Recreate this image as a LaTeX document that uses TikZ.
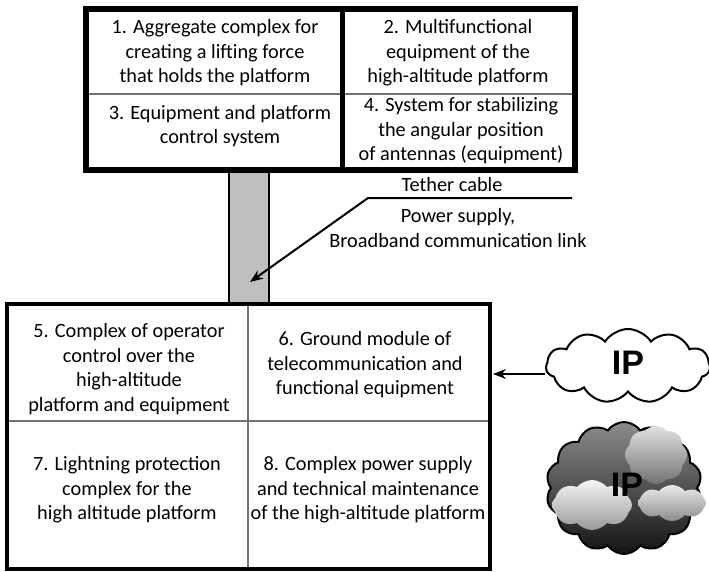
\documentclass[tikz,border=0pt]{standalone}
\usepackage{fontspec}
\setmainfont{Carlito}
\newfontfamily\ipfont{Liberation Sans}
\usetikzlibrary{arrows.meta,shapes.symbols}

\begin{document}
\begin{tikzpicture}[x=1pt,y=-1pt,
  lbl/.style={align=center,font=\fontsize{20.3}{24.5}\selectfont,inner sep=0pt},
  frame/.style={draw=black,line width=#1},
  thin/.style={draw=black!55,line width=1.5pt},
  ptr/.style={draw=black,line width=2pt,-{Stealth[length=13pt,width=10pt]}},
  iptext/.style={font=\ipfont\bfseries\fontsize{34}{34}\selectfont,inner sep=0pt},
  puff/.style={cloud,draw=none,inner sep=0pt,cloud puffs=8,cloud puff arc=100}
]
\useasboundingbox (0,0) rectangle (709,571);
\fill[white] (0,0) rectangle (709,571);

% tether cable between the platform and the ground module
\filldraw[fill=black!25,draw=black,line width=2pt] (228.5,170) rectangle (269,304);

% platform block
\draw[thin] (86,94) -- (342,94);
\draw[thin] (342,94) -- (575,94);
\draw[frame=5pt] (342,9) -- (342,170);
\draw[frame=6pt] (86,9) rectangle (575,170);

\node[lbl] (t1) at (215,53) {1. Aggregate complex for\\creating a lifting force\\that holds the platform};
\node[lbl] (t2) at (458,53) {2. Multifunctional\\equipment of the\\high-altitude platform};
\node[lbl] (t3) at (220,126) {3. Equipment and platform\\control system};
\node[lbl] (t4) at (461,131) {4. System for stabilizing\\the angular position\\of antennas (equipment)};

% ground block
\draw[thin] (248,304) -- (248,569);
\draw[thin] (7,421) -- (490,421);
\draw[frame=4.5pt] (7,304) rectangle (490,569);

\node[lbl] (t5) at (129,369) {5. Complex of operator\\control over the\\high-altitude\\platform and equipment};
\node[lbl] (t6) at (365,365) {6. Ground module of\\telecommunication and\\functional equipment};
\node[lbl] (t7) at (127,490) {7. Lightning protection\\complex for the\\high altitude platform};
\node[lbl] (t8) at (368,490) {8. Complex power supply\\and technical maintenance\\of the high-altitude platform};

% cable labels and leader
\node[lbl] (cab) at (452,185) {Tether cable};
\node[lbl] (pwr) at (458,228) {Power supply,\\Broadband communication link};
\coordinate (lead) at (572,198);
\coordinate (bend) at (368,198);
\coordinate (tip) at (250,282);
\draw[ptr] (lead) -- (bend) -- (tip);

% outline IP cloud
\node[cloud,draw=black,line width=2pt,fill=white,cloud puffs=11,cloud puff arc=115,
      aspect=2.4,minimum width=164pt,minimum height=74pt,inner sep=0pt] (ip1) at (628,366) {};
\node[iptext] (ip1t) at (628,363) {IP};
\coordinate (gm) at (493,374);
\draw[ptr] (ip1.west |- gm) -- (gm);

% shaded IP cloud
\node[cloud,draw=black,line width=2pt,cloud puffs=14,cloud puff arc=110,aspect=1.3,
      minimum width=156pt,minimum height=132pt,inner sep=0pt,
      top color=black!45,bottom color=black!92] (ip2) at (624,488) {};
\node[puff,top color=black!4,bottom color=black!40,aspect=1.7,
      minimum width=80pt,minimum height=50pt] (pa) at (592,505) {};
\node[puff,top color=black!8,bottom color=black!45,aspect=2.2,
      minimum width=68pt,minimum height=36pt] (pb) at (672,503) {};
\node[puff,top color=black!12,bottom color=black!55,aspect=1.1,
      minimum width=62pt,minimum height=58pt] (pc) at (656,455) {};
\node[iptext] (ip2t) at (627,485) {IP};
\end{tikzpicture}
\end{document}
